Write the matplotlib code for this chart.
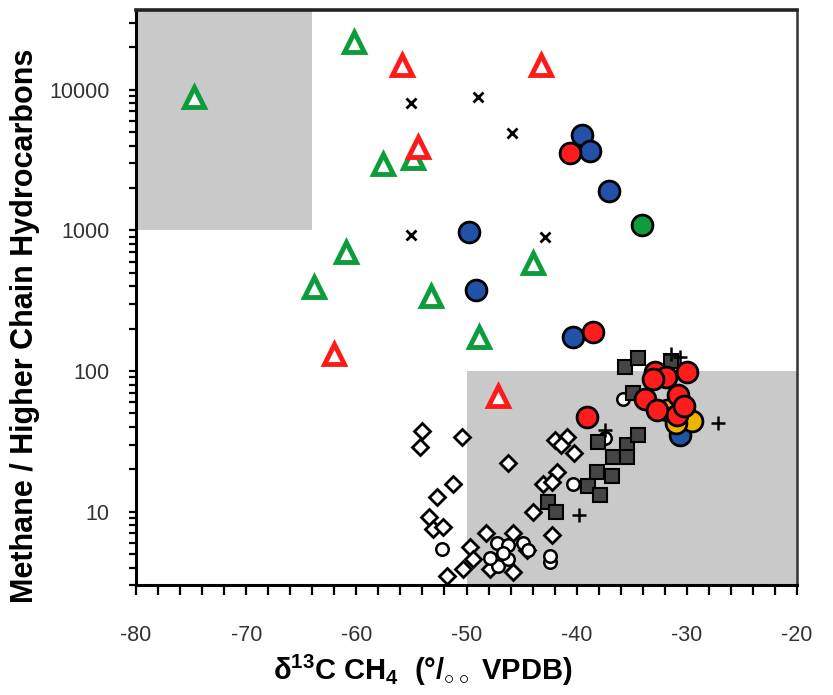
import matplotlib
matplotlib.use("Agg")
import matplotlib.pyplot as plt
from matplotlib.ticker import MultipleLocator, LogLocator, NullFormatter, FixedLocator, FixedFormatter

plt.rcParams['font.family'] = ['Liberation Sans', 'DejaVu Sans']
plt.rcParams['mathtext.fontset'] = 'custom'
plt.rcParams['mathtext.rm'] = 'Liberation Sans:bold'
plt.rcParams['mathtext.bf'] = 'Liberation Sans:bold'
plt.rcParams['mathtext.default'] = 'rm'
plt.rcParams['axes.unicode_minus'] = False

# open triangles (green / red)
tri_green_x = [-74.7, -60.2, -57.6, -54.9, -60.9, -63.8, -53.2, -44.0, -48.9]
tri_green_y = [8900, 21900, 2980, 3290, 706, 398, 344, 589, 173]
tri_red_x = [-55.9, -54.4, -43.2, -62.0, -47.1]
tri_red_y = [15000, 3940, 15000, 133, 66]

# crosses
cross_x = [-55.0, -49.0, -45.9, -55.0, -42.9]
cross_y = [8090, 8920, 4940, 931, 902]

# filled circles
blue_x = [-39.5, -38.8, -37.1, -49.8, -49.1, -40.3, -30.6]
blue_y = [4790, 3680, 1915, 977, 379, 173, 35]
orange_x = [-31.8, -29.5, -31.0]
orange_y = [53, 44, 43]
green_dot_x = [-34.1]
green_dot_y = [1096]
red_x = [-40.6, -38.5, -39.1, -32.9, -31.9, -30.0, -33.1, -33.8, -32.7, -30.8, -30.9, -30.3]
red_y = [3560, 190, 47, 99, 91, 99, 87, 63, 53, 68, 49, 56]

# dark squares
sq_x = [-35.6, -34.4, -34.9, -31.4, -38.1, -35.4, -34.4, -36.7, -35.4, -38.2, -36.8,
        -39.0, -37.9, -42.6, -41.9]
sq_y = [107, 124, 70, 117, 31.5, 30, 34.8, 24.3, 24.3, 19, 18, 15.1, 13.2, 11.8, 9.9]

# plus signs
plus_x = [-27.2, -39.8, -31.4, -30.6, -37.4]
plus_y = [43, 9.5, 131, 125, 38]

# open circles
oc_x = [-35.8, -40.3, -37.4, -52.2, -42.4, -42.4, -47.2, -46.2, -44.9, -47.1, -46.2,
        -44.4, -47.9, -46.7]
oc_y = [63.7, 15.8, 33.6, 5.4, 4.35, 4.8, 6.0, 5.8, 6.0, 4.08, 4.6, 5.3, 4.7, 5.1]

# open diamonds
dia_x = [-54.0, -54.2, -50.4, -46.2, -51.2, -52.7, -53.4, -53.0, -52.1, -49.7, -48.2,
         -50.3, -51.8, -49.4, -42.0, -40.9, -41.4, -40.2, -41.8, -43.1, -42.2, -44.0,
         -42.2, -45.8, -44.5, -47.9, -45.8]
dia_y = [37.7, 29.0, 34.2, 22.0, 15.6, 12.8, 9.2, 7.5, 7.8, 5.6, 7.1, 3.9, 3.5, 4.6,
         32.5, 34.2, 30.0, 26.3, 19.0, 15.6, 16.2, 10.0, 6.8, 7.1, 5.3, 3.9, 3.7]

# shaded fields: (x0, x1, y0, y1)
box_upper = (-80, -64, 1000, 37000)
box_lower = (-50, -20, 3, 100)

fig = plt.figure(figsize=(8.33, 6.95), dpi=100)
ax = fig.add_axes([0.1633, 0.158, 0.7935, 0.828])

for x0, x1, y0, y1 in (box_upper, box_lower):
    ax.fill_between([x0, x1], y0, y1, color='#c9c9c9', lw=0, zorder=0)

ax.plot(dia_x, dia_y, ls='none', marker='D', ms=8, mfc='white', mec='black', mew=2, zorder=2)
ax.plot(oc_x, oc_y, ls='none', marker='o', ms=9, mfc='white', mec='black', mew=1.8, zorder=3)
ax.plot(sq_x, sq_y, ls='none', marker='s', ms=10, mfc='#454545', mec='black', mew=1.5, zorder=3)
ax.plot(plus_x, plus_y, ls='none', marker='+', ms=10, mec='black', mew=1.8, zorder=4)
ax.plot(cross_x, cross_y, ls='none', marker='x', ms=7, mec='black', mew=2, zorder=4)
ax.plot(tri_green_x, tri_green_y, ls='none', marker='^', ms=15, mfc='white', mec='#0c9c3c', mew=3.5, zorder=5)
ax.plot(tri_red_x, tri_red_y, ls='none', marker='^', ms=15, mfc='white', mec='#ff1a1a', mew=3.5, zorder=5)
ax.plot(blue_x, blue_y, ls='none', marker='o', ms=15, mfc='#2152a8', mec='black', mew=2, zorder=5)
ax.plot(green_dot_x, green_dot_y, ls='none', marker='o', ms=15, mfc='#119c3c', mec='black', mew=2, zorder=5)
ax.plot(orange_x, orange_y, ls='none', marker='o', ms=15, mfc='#f0b400', mec='black', mew=2, zorder=6)
ax.plot(red_x, red_y, ls='none', marker='o', ms=15, mfc='#ff1c1c', mec='black', mew=2, zorder=7)

ax.set_xlim(-80, -20)
ax.set_yscale('log')
ax.set_ylim(3, 37000)

ax.xaxis.set_major_locator(MultipleLocator(10))
ax.xaxis.set_minor_locator(MultipleLocator(2))
ax.yaxis.set_major_locator(FixedLocator([10, 100, 1000, 10000]))
ax.yaxis.set_major_formatter(FixedFormatter(['10', '100', '1000', '10000']))
ax.yaxis.set_minor_locator(LogLocator(base=10, subs=range(2, 10)))
ax.yaxis.set_minor_formatter(NullFormatter())

ax.tick_params(axis='x', which='both', direction='out', length=7, width=1.6, pad=22,
               labelsize=15.5, labelcolor='#333333')
ax.tick_params(axis='y', which='both', direction='out', length=5, width=1.6, pad=14,
               labelsize=15.5, labelcolor='#333333')

for side in ('left', 'bottom'):
    ax.spines[side].set_linewidth(2.2)
ax.spines['top'].set_linewidth(2.6)
ax.spines['top'].set_color('#222222')
ax.spines['right'].set_linewidth(1.8)
ax.spines['right'].set_color('#333333')

ax.set_ylabel('Methane / Higher Chain Hydrocarbons', fontsize=22, fontweight='bold')
ax.yaxis.set_label_coords(-0.145, 0.45)
ax.set_xlabel('δ$^{13}$C CH$_4$  (°/$_{\\circ\\circ}$ VPDB)', fontsize=21, fontweight='bold')
ax.xaxis.set_label_coords(0.433, -0.118)

fig.savefig('out.png', dpi=100)
